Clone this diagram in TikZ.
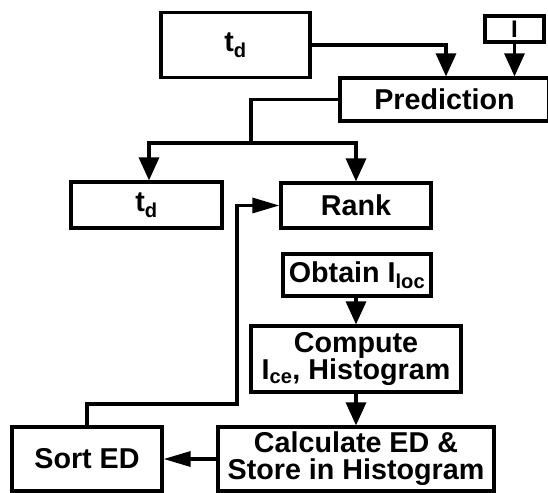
\documentclass[tikz,border=0pt]{standalone}
\usepackage{fontspec}
\setmainfont{Liberation Sans}
\usetikzlibrary{arrows.meta}
\tikzset{
  box/.style={draw, line width=3.2pt, rectangle, inner sep=0pt, align=center,
    font=\fontsize{28.7}{27}\selectfont\bfseries},
  conn/.style={line width=3.2pt},
  varr/.style={line width=3.2pt, -{Triangle[length=23pt,width=20pt]}},
  harr/.style={line width=3.2pt, -{Triangle[length=27pt,width=15pt]}}
}
\begin{document}
\begin{tikzpicture}[x=1pt,y=-1pt]
\useasboundingbox (0,0) rectangle (548,492);
\node[box, minimum width=149pt, minimum height=65pt] (td1) at (235.5,45) {t\textsubscript{d}};
\node[box, minimum width=59pt, minimum height=26pt, font=\fontsize{24}{24}\selectfont\bfseries] (inp) at (514.5,29) {I};
\node[box, minimum width=209pt, minimum height=43pt] (pred) at (444.5,99.5) {Prediction};
\node[box, minimum width=151pt, minimum height=46pt] (td2) at (146.5,205) {t\textsubscript{d}};
\node[box, minimum width=150pt, minimum height=45pt] (rank) at (356,205.5) {Rank};
\node[box, minimum width=148pt, minimum height=42pt] (obtain) at (357,275) {Obtain I\textsubscript{loc}};
\node[box, minimum width=210pt, minimum height=66pt] (compute) at (356,359) {Compute\\I\textsubscript{ce}, Histogram};
\node[box, minimum width=276pt, minimum height=64pt] (calc) at (356,459) {Calculate ED \&\\Store in Histogram};
\node[box, minimum width=150pt, minimum height=64pt] (sort) at (87,459) {Sort ED};
\coordinate (split) at (251,143);
\coordinate (bend) at (237,404);
\draw[varr] (td1.east) -| ([xshift=1.5pt]pred.north);
\draw[varr] (inp.south) -- (inp.south |- pred.north);
\draw[conn] (pred.west) -| (split);
\draw[varr] (split) -| ([xshift=2.5pt]td2.north);
\draw[varr] (split) -| (rank.north);
\draw[varr] (obtain.south -| compute.north) -- (compute.north);
\draw[varr] (compute.south) -- (calc.north);
\draw[harr] (calc.west) -- (sort.east);
\draw[harr] (sort.north) |- (bend) |- (rank.west);
\end{tikzpicture}
\end{document}
